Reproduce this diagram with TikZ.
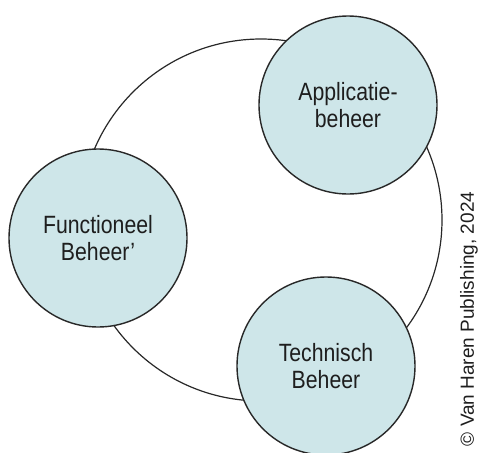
\documentclass[tikz,border=0pt]{standalone}
\usepackage{fontspec}
\setmainfont[FakeStretch=0.85]{Liberation Sans}
\newfontfamily\copyfont{Liberation Sans}
\definecolor{circfill}{RGB}{206,230,233}
\definecolor{linecol}{RGB}{40,40,40}
\definecolor{txtcol}{RGB}{30,30,30}
\begin{document}
\begin{tikzpicture}[x=1pt,y=-1pt,
  bigring/.style={circle,draw=linecol,line width=1.2pt,minimum size=362pt,inner sep=0pt},
  roleball/.style={circle,draw=linecol,line width=1.4pt,fill=circfill,minimum size=178pt,inner sep=0pt,
    align=center,text=txtcol,font=\fontsize{25}{27}\selectfont}]
\useasboundingbox (0,0) rectangle (480,453);
\node[bigring] (ring) at (261,220) {};
\node[roleball] (app) at (348,105) {Applicatie-\\beheer};
\node[roleball] (func) at (98,238) {Functioneel\\Beheer’};
\node[roleball] (tech) at (326,366) {Technisch\\Beheer};
\node[rotate=90,text=txtcol,font=\copyfont\fontsize{19}{21}\selectfont,inner sep=0pt] (copy) at (469,319) {© Van Haren Publishing, 2024};
\end{tikzpicture}
\end{document}
